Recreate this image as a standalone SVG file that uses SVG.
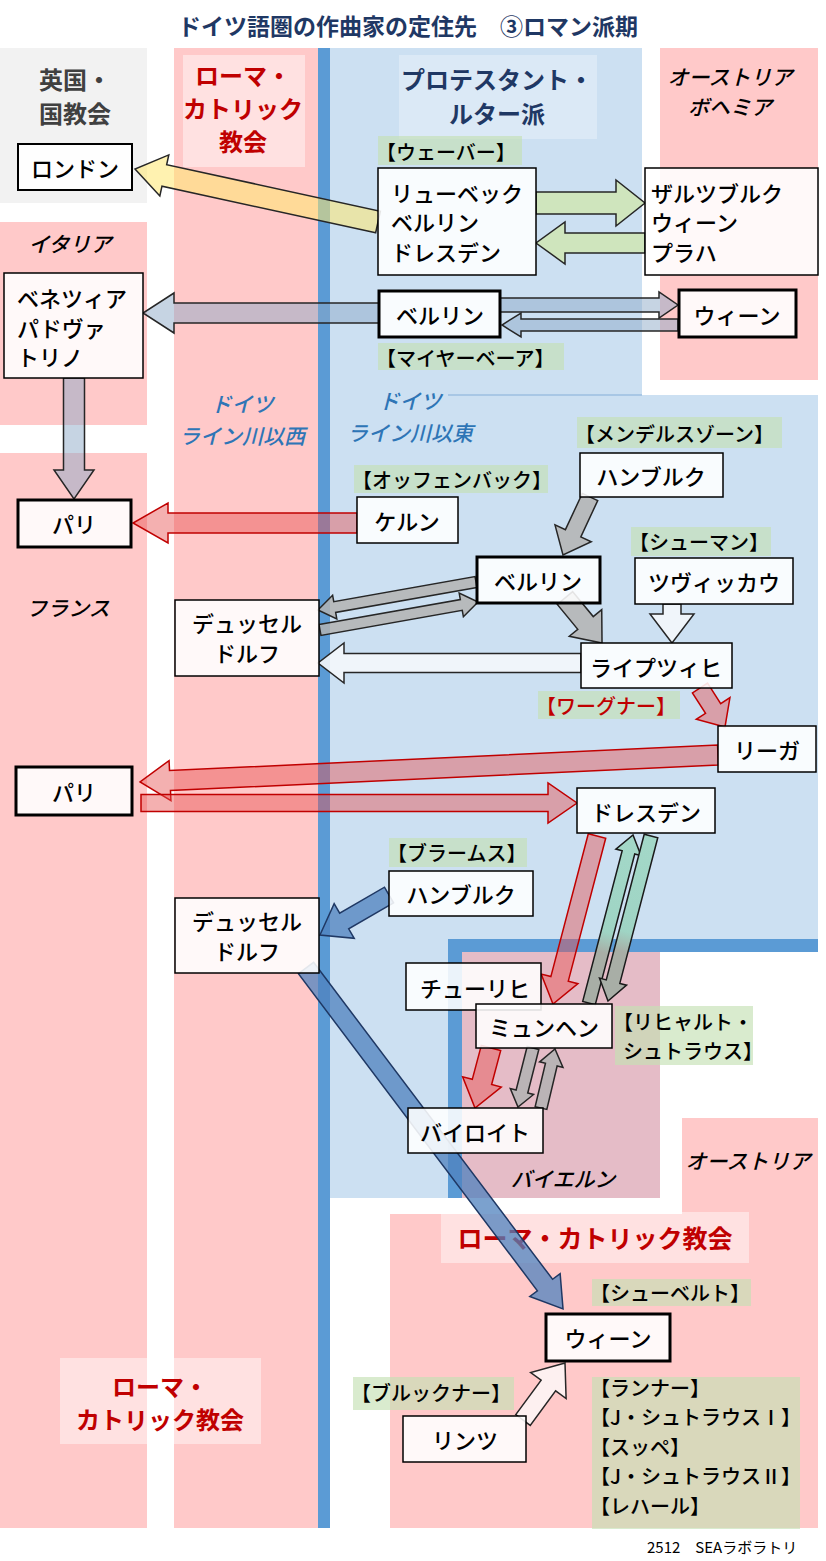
<svg xmlns="http://www.w3.org/2000/svg" width="826" height="1561" viewBox="0 0 826 1561">
<defs>
<style>
.pink{fill:#ffc9c9}
.blue{fill:#cce0f2}
.bar{fill:#5b9bd5}
.t{font-family:"Noto Sans CJK JP","Noto Sans",sans-serif;font-size:22px;fill:#000;dominant-baseline:central;font-weight:500}
.c{text-anchor:middle}
.it{font-style:italic;font-size:21px}
.rg{font-size:24px;font-weight:700}
.red{fill:#c00000}
.navy{fill:#1f3864}
.lblue{fill:#2e75b6}
.lt{font-size:20px}
.box{fill:#fff;fill-opacity:.88;stroke:#000;stroke-width:1.5}
.thick{stroke-width:3}
.lbl{fill:#c5e0b4;fill-opacity:.65}
.wbg{fill:#fff;fill-opacity:.45}
.a-red{fill:#e65050;fill-opacity:.45;stroke:#c00000;stroke-width:1.5}
.a-steel{fill:#8ea9c8;fill-opacity:.5;stroke:#262626;stroke-width:1.5}
.a-gray{fill:#b3b3b3;fill-opacity:.85;stroke:#262626;stroke-width:1.5}
.a-green{fill:#cfe5bd;stroke:#262626;stroke-width:1.5}
.a-white{fill:#f4f7fb;fill-opacity:.9;stroke:#262626;stroke-width:1.5}
.a-blue{fill:#4f81bd;fill-opacity:.75;stroke:#1f3864;stroke-width:1.5}
</style>
<linearGradient id="gUp" x1="0" y1="0" x2="1" y2="0">
<stop offset="0" stop-color="#a8aea6"/><stop offset="0.3" stop-color="#a8aea6"/><stop offset="0.42" stop-color="#9fd4c4"/><stop offset="1" stop-color="#a3d8c8"/>
</linearGradient>
<linearGradient id="gDn" x1="0" y1="0" x2="1" y2="0">
<stop offset="0" stop-color="#a3d8c8"/><stop offset="0.58" stop-color="#9fd4c4"/><stop offset="0.7" stop-color="#a8aea6"/><stop offset="1" stop-color="#a8aea6"/>
</linearGradient>
</defs>
<rect width="826" height="1561" fill="#fff"/>

<g id="regions">
<rect x="0" y="48" width="147" height="155" fill="#f2f2f2"/>
<rect class="pink" x="0" y="222" width="147" height="203"/>
<rect class="pink" x="0" y="453" width="147" height="1075"/>
<rect class="pink" x="174" y="48" width="144" height="1480"/>
<polygon class="blue" points="330,48 642,48 642,395 818,395 818,939 448,939 448,1198 330,1198"/>
<line x1="448" y1="395" x2="642" y2="395" stroke="#9dbfe0" stroke-width="1.5"/>
<rect class="pink" x="660" y="48" width="158" height="332"/>
<rect x="462" y="952" width="198" height="246" fill="#e5bcc7"/>
<rect class="bar" x="448" y="939" width="370" height="13"/>
<rect class="bar" x="448" y="939" width="14" height="259"/>
<rect class="pink" x="682" y="1118" width="136" height="410"/>
<rect class="pink" x="390" y="1214" width="428" height="314"/>
<rect class="bar" x="318" y="48" width="12" height="1480"/>
</g>

<g id="region-labels">
<text class="t c navy" x="408" y="25" style="font-size:23px;font-weight:700">ドイツ語圏の作曲家の定住先　③ロマン派期</text>
<text class="t c rg" x="75" y="78" style="fill:#404040">英国・</text>
<text class="t c rg" x="75" y="112" style="fill:#404040">国教会</text>
<rect class="wbg" x="183" y="55" width="122" height="112"/>
<text class="t c rg red" x="243" y="74">ローマ・</text>
<text class="t c rg red" x="243" y="107">カトリック</text>
<text class="t c rg red" x="243" y="140">教会</text>
<rect class="wbg" x="399" y="55" width="198" height="84" style="fill-opacity:.3"/>
<text class="t c rg navy" x="497" y="78">プロテスタント・</text>
<text class="t c rg navy" x="497" y="112">ルター派</text>
<text class="t c it" x="730" y="76">オーストリア</text>
<text class="t c it" x="730" y="106">ボヘミア</text>
<text class="t c it" x="70" y="243">イタリア</text>
<text class="t c it" x="68" y="607">フランス</text>
<text class="t c it lblue" x="242" y="403">ドイツ</text>
<text class="t c it lblue" x="242" y="435">ライン川以西</text>
<text class="t c it lblue" x="410" y="400">ドイツ</text>
<text class="t c it lblue" x="410" y="432">ライン川以東</text>
<text class="t c it" x="563" y="1178">バイエルン</text>
<text class="t c it" x="748" y="1160">オーストリア</text>
<rect class="wbg" x="441" y="1212" width="308" height="51"/>
<text class="t c red" x="595" y="1237" style="font-size:25px;font-weight:700">ローマ・カトリック教会</text>
<rect class="wbg" x="60" y="1358" width="201" height="86"/>
<text class="t c rg red" x="160" y="1385">ローマ・</text>
<text class="t c rg red" x="160" y="1418">カトリック教会</text>
<text class="t" x="647" y="1546" style="font-size:15px;font-weight:400">2512　SEAラボラトリ</text>
</g>

<g id="connectors">
<polygon points="0,-11 218.7,-11 218.7,-21 248.7,0 218.7,21 218.7,11 0,11" transform="translate(378,222) rotate(-167.7)" fill="#ffe870" fill-opacity="0.55" stroke="#262626" stroke-width="1.5"/>
<polygon class="a-green" points="0,-11 80,-11 80,-23 109,0 80,23 80,11 0,11" transform="translate(536,203)"/>
<polygon class="a-green" points="0,-10 80,-10 80,-21 109,0 80,21 80,10 0,10" transform="translate(645,243) rotate(180)"/>
<polygon class="a-steel" points="0,-10 205,-10 205,-20 236,0 205,20 205,10 0,10" transform="translate(379,313) rotate(180)"/>
<polygon class="a-steel" points="0,-7 159,-7 159,-13 178,0 159,13 159,7 0,7" transform="translate(500,305)"/>
<polygon class="a-steel" points="0,-6 157,-6 157,-12 176,0 157,12 157,6 0,6" transform="translate(678,325) rotate(180)"/>
<polygon class="a-steel" points="0,-10.5 92,-10.5 92,-20 121,0 92,20 92,10.5 0,10.5" transform="translate(74,378) rotate(90)"/>
<polygon class="a-red" points="0,-10 189,-10 189,-20 224,0 189,20 189,10 0,10" transform="translate(357,523) rotate(180)"/>
<polygon class="a-gray" points="0,-8.5 40,-8.5 40,-20 64,0 40,20 40,8.5 0,8.5" transform="translate(590,497) rotate(114.96)"/>
<polygon class="a-gray" points="0,-5.5 143.5,-5.5 143.5,-12 160.5,0 143.5,12 143.5,5.5 0,5.5" transform="translate(476,582) rotate(169.95)"/>
<polygon class="a-gray" points="0,-5.5 143.5,-5.5 143.5,-12 160.5,0 143.5,12 143.5,5.5 0,5.5" transform="translate(320,630) rotate(-10.05)"/>
<polygon class="a-gray" points="0,-10 32.3,-10 32.3,-21 58.3,0 32.3,21 32.3,10 0,10" transform="translate(565,598) rotate(50.57)"/>
<polygon class="a-white" points="0,-9 10,-9 10,-22 39,0 10,22 10,9 0,9" transform="translate(672,604) rotate(90)"/>
<polygon class="a-white" points="0,-9.5 237,-9.5 237,-20 263,0 237,20 237,9.5 0,9.5" transform="translate(581,663) rotate(180)"/>
<polygon class="a-red" points="0,-9 24.3,-9 24.3,-20 46.3,0 24.3,20 24.3,9 0,9" transform="translate(700,688) rotate(57.34)"/>
<polygon class="a-red" points="0,-10 548.6,-10 548.6,-20 578.6,0 548.6,20 548.6,10 0,10" transform="translate(718,755) rotate(177.33)"/>
<polygon class="a-red" points="0,-8.5 407,-8.5 407,-20 436,0 407,20 407,8.5 0,8.5" transform="translate(141,803)"/>
<polygon class="a-red" points="0,-9 147.7,-9 147.7,-19 173.7,0 147.7,19 147.7,9 0,9" transform="translate(597,836) rotate(104.68)"/>
<polygon points="0,-6.5 155.7,-6.5 155.7,-13 173.7,0 155.7,13 155.7,6.5 0,6.5" transform="translate(589,1003) rotate(-75.32)" fill="url(#gUp)" stroke="#1a1a1a" stroke-width="1.5"/>
<polygon points="0,-7 150.5,-7 150.5,-14 170.5,0 150.5,14 150.5,7 0,7" transform="translate(651,836) rotate(104.61)" fill="url(#gDn)" stroke="#1a1a1a" stroke-width="1.5"/>
<polygon class="a-blue" points="0,-9 51.8,-9 51.8,-20 79.8,0 51.8,20 51.8,9 0,9" transform="translate(389,895) rotate(149.9)"/>
<polygon class="a-blue" points="0,-9.5 397,-9.5 397,-19 427,0 397,19 397,9.5 0,9.5" transform="translate(306,968) rotate(52.99)"/>
<polygon class="a-red" points="0,-10 35.1,-10 35.1,-20 62.1,0 35.1,20 35.1,10 0,10" transform="translate(491,1048) rotate(104.93)"/>
<polygon class="a-gray" points="0,-6 44.9,-6 44.9,-12 60.9,0 44.9,12 44.9,6 0,6" transform="translate(533,1048) rotate(104.26)"/>
<polygon class="a-gray" points="0,-6 44.6,-6 44.6,-12 60.6,0 44.6,12 44.6,6 0,6" transform="translate(541,1108) rotate(-76.65)"/>
<polygon points="0,-9 42.8,-9 42.8,-22 70.8,0 42.8,22 42.8,9 0,9" transform="translate(523,1420) rotate(-53.61)" fill="#fdf0f0" stroke="#262626" stroke-width="1.5"/>
</g>

<g id="n-london"><rect class="box" x="18" y="144" width="114" height="46" style="stroke-width:2"/><text class="t c" x="75" y="167">ロンドン</text></g>
<g id="l-weber"><rect class="lbl" x="378" y="136" width="144" height="29"/><text class="t lt" x="376" y="151">【ウェーバー】</text></g>
<g id="n-lubeck"><rect class="box" x="378" y="168" width="158" height="107"/><text class="t" x="391" y="192">リューベック</text><text class="t" x="391" y="221">ベルリン</text><text class="t" x="391" y="251">ドレスデン</text></g>
<g id="n-salzburg"><rect class="box" x="645" y="168" width="173" height="107"/><text class="t" x="651" y="192">ザルツブルク</text><text class="t" x="651" y="221">ウィーン</text><text class="t" x="651" y="251">プラハ</text></g>
<g id="n-venezia"><rect class="box" x="4" y="273" width="139" height="105"/><text class="t" x="17" y="297">ベネツィア</text><text class="t" x="17" y="327">パドヴァ</text><text class="t" x="17" y="356">トリノ</text></g>
<g id="n-berlin1"><rect class="box thick" x="379" y="291" width="121" height="46"/><text class="t c" x="440" y="314">ベルリン</text></g>
<g id="n-wien1"><rect class="box thick" x="679" y="290" width="117" height="47"/><text class="t c" x="737" y="314">ウィーン</text></g>
<g id="l-meyerbeer"><rect class="lbl" x="378" y="343" width="186" height="27"/><text class="t lt" x="376" y="357">【マイヤーベーア】</text></g>
<g id="l-mendelssohn"><rect class="lbl" x="577" y="417" width="205" height="31"/><text class="t lt" x="575" y="433">【メンデルスゾーン】</text></g>
<g id="n-hamburg1"><rect class="box" x="580" y="453" width="143" height="44"/><text class="t c" x="651" y="475">ハンブルク</text></g>
<g id="l-offenbach"><rect class="lbl" x="354" y="465" width="194" height="28"/><text class="t lt" x="352" y="479">【オッフェンバック】</text></g>
<g id="n-koln"><rect class="box" x="357" y="497" width="101" height="46"/><text class="t c" x="407" y="520">ケルン</text></g>
<g id="n-paris1"><rect class="box thick" x="18" y="500" width="113" height="47"/><text class="t c" x="74" y="523">パリ</text></g>
<g id="l-schumann"><rect class="lbl" x="631" y="527" width="140" height="29"/><text class="t lt" x="629" y="541">【シューマン】</text></g>
<g id="n-berlin2"><rect class="box thick" x="477" y="557" width="123" height="46"/><text class="t c" x="538" y="580">ベルリン</text></g>
<g id="n-zwickau"><rect class="box" x="635" y="558" width="158" height="46"/><text class="t c" x="714" y="581">ツヴィッカウ</text></g>
<g id="n-dusseldorf1"><rect class="box" x="175" y="600" width="144" height="76"/><text class="t c" x="247" y="622">デュッセル</text><text class="t c" x="247" y="652">ドルフ</text></g>
<g id="n-leipzig"><rect class="box" x="581" y="643" width="151" height="45"/><text class="t c" x="656" y="666">ライプツィヒ</text></g>
<g id="l-wagner"><rect class="lbl" x="538" y="691" width="142" height="28"/><text class="t lt red" x="536" y="705">【ワーグナー】</text></g>
<g id="n-riga"><rect class="box" x="718" y="726" width="98" height="46"/><text class="t c" x="767" y="749">リーガ</text></g>
<g id="n-paris2"><rect class="box thick" x="16" y="767" width="116" height="48"/><text class="t c" x="74" y="791">パリ</text></g>
<g id="n-dresden"><rect class="box" x="577" y="788" width="138" height="45"/><text class="t c" x="646" y="811">ドレスデン</text></g>
<g id="l-brahms"><rect class="lbl" x="389" y="838" width="138" height="29"/><text class="t lt" x="387" y="852">【ブラームス】</text></g>
<g id="n-hamburg2"><rect class="box" x="389" y="871" width="144" height="45"/><text class="t c" x="461" y="893">ハンブルク</text></g>
<g id="n-dusseldorf2"><rect class="box" x="175" y="898" width="144" height="75"/><text class="t c" x="247" y="920">デュッセル</text><text class="t c" x="247" y="950">ドルフ</text></g>
<g id="n-zurich"><rect class="box" x="406" y="963" width="135" height="47"/><text class="t c" x="475" y="987">チューリヒ</text></g>
<g id="n-munchen"><rect class="box" x="476" y="1004" width="136" height="44"/><text class="t c" x="544" y="1026">ミュンヘン</text></g>
<g id="l-rstrauss"><rect class="lbl" x="615" y="1006" width="138" height="59"/><text class="t lt" x="613" y="1021">【リヒャルト・</text><text class="t lt" x="623" y="1050">シュトラウス】</text></g>
<g id="n-bayreuth"><rect class="box" x="408" y="1108" width="135" height="45"/><text class="t c" x="475" y="1131">バイロイト</text></g>
<g id="l-schubert"><rect class="lbl" x="592" y="1279" width="159" height="27"/><text class="t lt" x="590" y="1292">【シューベルト】</text></g>
<g id="n-wien2"><rect class="box thick" x="546" y="1314" width="124" height="47"/><text class="t c" x="608" y="1337">ウィーン</text></g>
<g id="l-bruckner"><rect class="lbl" x="353" y="1377" width="161" height="33"/><text class="t lt" x="351" y="1392">【ブルックナー】</text></g>
<g id="n-linz"><rect class="box" x="403" y="1416" width="123" height="46"/><text class="t c" x="465" y="1439">リンツ</text></g>
<g id="l-vienna-list"><rect class="lbl" x="592" y="1377" width="208" height="152"/>
<text class="t lt" x="590" y="1387">【ランナー】</text>
<text class="t lt" x="590" y="1416">【J・シュトラウスⅠ】</text>
<text class="t lt" x="590" y="1446">【スッペ】</text>
<text class="t lt" x="590" y="1475">【J・シュトラウスⅡ】</text>
<text class="t lt" x="590" y="1505">【レハール】</text>
</g>
</svg>
